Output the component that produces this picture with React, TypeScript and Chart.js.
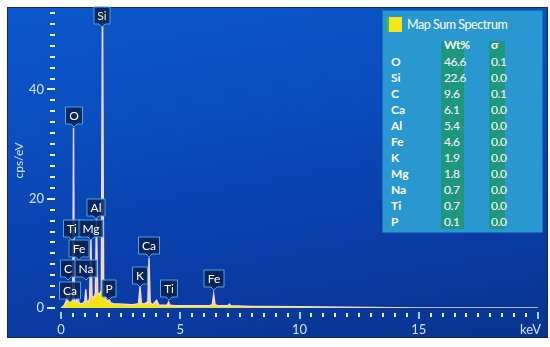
import React, { useEffect, useRef } from 'react';
import { Chart, registerables } from 'chart.js';

Chart.register(...registerables);

// Spectrum samples (energy in keV, intensity in cps/eV)
const spectrumKeV = [
  0, 0.12, 0.2, 0.25, 0.277, 0.31, 0.341, 0.38, 0.452, 0.49, 0.525, 0.56, 0.62, 0.705, 0.76,
  0.85, 0.93, 1.0, 1.041, 1.08, 1.15, 1.2, 1.254, 1.3, 1.36, 1.44, 1.487, 1.54, 1.6, 1.69,
  1.74, 1.79, 1.85, 1.95, 2.013, 2.07, 2.2, 2.6, 3.0, 3.25, 3.313, 3.37, 3.5, 3.59, 3.64,
  3.691, 3.74, 3.85, 4.01, 4.1, 4.3, 4.45, 4.51, 4.57, 4.8, 5.5, 6.2, 6.34, 6.403, 6.46,
  6.6, 7.0, 7.06, 7.12, 8.0, 10.0, 12.0, 13.0, 15.0, 20.0,
];
const spectrumCps = [
  0, 0.4, 1.1, 1.6, 3.0, 1.7, 2.4, 1.3, 1.7, 1.5, 33, 1.5, 1.0, 2.1, 0.9,
  0.8, 0.9, 1.3, 3.4, 1.3, 1.1, 1.8, 12.5, 2.2, 1.8, 2.6, 16.5, 2.8, 2.4, 3.2,
  58, 3.2, 1.9, 1.1, 1.7, 1.0, 0.8, 0.7, 0.6, 0.8, 3.9, 0.9, 0.7, 1.0, 0.9,
  9.2, 1.0, 0.6, 1.4, 0.5, 0.5, 0.5, 1.1, 0.5, 0.4, 0.4, 0.4, 0.6, 2.6, 0.6,
  0.4, 0.4, 0.7, 0.4, 0.3, 0.25, 0.15, 0.08, 0, 0,
];

// Peak callouts: element, line energy (keV), height of the callout tip (cps/eV)
const peakLabels = ['Ca', 'C', 'Ti', 'O', 'Fe', 'Na', 'Mg', 'Al', 'Si', 'P', 'K', 'Ca', 'Ti', 'Fe'];
const peakKeV = [0.37, 0.277, 0.46, 0.525, 0.74, 1.041, 1.254, 1.487, 1.74, 2.013, 3.313, 3.691, 4.51, 6.403];
const peakTipCps = [1.1, 5.1, 12.5, 33.2, 8.8, 5.1, 12.5, 16.3, 51.5, 1.5, 3.9, 9.4, 1.5, 3.3];

const xTickLabels = ['0', '5', '10', '15'];
const xUnit = 'keV';
const yTitle = 'cps/eV';

// Quantification table
const tableTitle = 'Map Sum Spectrum';
const tableElements = ['O', 'Si', 'C', 'Ca', 'Al', 'Fe', 'K', 'Mg', 'Na', 'Ti', 'P'];
const tableWt = ['46.6', '22.6', '9.6', '6.1', '5.4', '4.6', '1.9', '1.8', '0.7', '0.7', '0.1'];
const tableSigma = ['0.1', '0.0', '0.1', '0.0', '0.0', '0.0', '0.0', '0.0', '0.0', '0.0', '0.0'];

const FONT = 'Lato, "Open Sans", sans-serif';
const AXIS_COLOR = '#d3e4ff';

const overlayPlugin = {
  id: 'edsOverlay',
  afterDatasetsDraw(chart: any) {
    const ctx = chart.ctx;
    const xs = chart.scales.x;
    const ys = chart.scales.y;
    const area = chart.chartArea;
    ctx.save();
    // y tick marks
    for (let v = 0; v <= ys.max; v += 2) {
      const y = Math.round(ys.getPixelForValue(v));
      const major = v % 20 === 0;
      ctx.fillStyle = '#eef4ff';
      ctx.fillRect(major ? area.left - 14 : area.left - 11, y - 1, major ? 8 : 5, 2);
    }
    // x tick marks
    for (let i = 0; i <= 40; i++) {
      const v = i * 0.5;
      const x = Math.round(xs.getPixelForValue(v));
      const major = i % 10 === 0;
      ctx.fillStyle = major ? '#9ad6ff' : '#eef4ff';
      if (major) ctx.fillRect(x - 1, area.bottom + 4, 2, 7);
      else ctx.fillRect(x - 1, area.bottom + 5, 2, 4);
    }
    // unit label
    ctx.fillStyle = AXIS_COLOR;
    ctx.font = `13px ${FONT}`;
    ctx.textAlign = 'right';
    ctx.textBaseline = 'middle';
    ctx.fillText(xUnit, area.right + 3, area.bottom + 22);

    // peak callouts
    ctx.font = `12px ${FONT}`;
    ctx.textAlign = 'center';
    ctx.textBaseline = 'middle';
    peakLabels.forEach((lab, i) => {
      const cx = Math.round(xs.getPixelForValue(peakKeV[i]));
      const tip = Math.round(ys.getPixelForValue(peakTipCps[i]));
      const w = Math.round(ctx.measureText(lab).width) + 7;
      const h = 17;
      const bottom = tip - 3;
      const top = bottom - h;
      const l = cx - w / 2;
      const r = cx + w / 2;
      ctx.beginPath();
      ctx.moveTo(l, top);
      ctx.lineTo(r, top);
      ctx.lineTo(r, bottom);
      ctx.lineTo(cx + 3, bottom);
      ctx.lineTo(cx, tip);
      ctx.lineTo(cx - 3, bottom);
      ctx.lineTo(l, bottom);
      ctx.closePath();
      ctx.fillStyle = 'rgba(8,30,78,0.85)';
      ctx.fill();
      ctx.strokeStyle = '#45a6e6';
      ctx.lineWidth = 1;
      ctx.stroke();
      ctx.fillStyle = i === 8 ? '#f3f0b0' : '#ffffff';
      ctx.fillText(lab, cx, top + h / 2 + 0.5);
    });
    ctx.restore();
  },
};

export default function App() {
  const canvasRef = useRef<HTMLCanvasElement | null>(null);

  useEffect(() => {
    const canvas = canvasRef.current;
    if (!canvas) return;
    const chart = new Chart(canvas, {
      type: 'line',
      data: {
        datasets: [
          {
            data: spectrumKeV.map((x, i) => ({ x, y: spectrumCps[i] })),
            borderColor: '#f2d6f4',
            borderWidth: 1.4,
            backgroundColor: '#f4e614',
            fill: 'origin',
            pointRadius: 0,
            tension: 0,
          },
        ],
      },
      options: {
        animation: false,
        responsive: false,
        events: [],
        layout: { padding: { left: 0, right: 12, top: 13, bottom: 0 } },
        plugins: { legend: { display: false }, tooltip: { enabled: false } },
        scales: {
          x: {
            type: 'linear',
            min: 0,
            max: 20,
            afterFit: (s: any) => {
              s.height = 39;
              s.paddingLeft = 0;
              s.paddingRight = 0;
            },
            grid: { display: false, drawTicks: false },
            border: { display: false },
            ticks: {
              stepSize: 5,
              padding: 14,
              autoSkip: false,
              maxRotation: 0,
              color: AXIS_COLOR,
              font: { family: FONT, size: 13 },
              callback: (v: any) => {
                const idx = Math.round(Number(v) / 5);
                return xTickLabels[idx] ?? '';
              },
            },
          },
          y: {
            type: 'linear',
            min: 0,
            max: 54,
            afterFit: (s: any) => {
              s.width = 61;
              s.paddingTop = 0;
              s.paddingBottom = 0;
            },
            grid: { display: false, drawTicks: false },
            border: { display: false },
            ticks: {
              stepSize: 20,
              padding: 17,
              color: AXIS_COLOR,
              font: { family: FONT, size: 13 },
              callback: (v: any) => (Number(v) % 20 === 0 ? String(v) : ''),
            },
            title: {
              display: true,
              text: yTitle,
              color: AXIS_COLOR,
              font: { family: FONT, size: 12 },
              padding: { top: 12, bottom: 0 },
            },
          },
        },
      },
      plugins: [overlayPlugin],
    });
    return () => chart.destroy();
  }, []);

  const rowTop = 43;
  const rowH = 16;

  return (
    <div style={{ position: 'fixed', left: 0, top: 0, width: 550, height: 347, background: '#ffffff', overflow: 'hidden', fontFamily: FONT }}>
      <div
        style={{
          position: 'absolute',
          left: 7,
          top: 7,
          width: 539,
          height: 329,
          border: '1px solid #16295a',
          background: 'linear-gradient(170deg, #0b57cc 0%, #0a4cbc 35%, #0a3eaa 65%, #08348f 100%)',
        }}
      />
      <canvas ref={canvasRef} width={550} height={347} style={{ position: 'absolute', left: 0, top: 0 }} />
      <div
        style={{
          position: 'absolute',
          left: 382,
          top: 10,
          width: 159,
          height: 221,
          background: '#2a98d0',
          border: '1px solid #1b6fb5',
          color: '#ffffff',
        }}
      >
        <div style={{ position: 'absolute', left: 58, top: 30, width: 23, height: 188, background: '#1f977f' }} />
        <div style={{ position: 'absolute', left: 106, top: 30, width: 16, height: 188, background: '#1f977f' }} />
        <div style={{ position: 'absolute', left: 4, top: 6, width: 15, height: 15, background: '#f5e61a', borderLeft: '2px solid #3fbf3a', boxSizing: 'border-box' }} />
        <div style={{ position: 'absolute', left: 24, top: 5, fontSize: 12.5, letterSpacing: -0.45, lineHeight: '17px', whiteSpace: 'nowrap' }}>{tableTitle}</div>
        <div style={{ position: 'absolute', left: 61, top: 26, fontSize: 12, fontWeight: 700, letterSpacing: -0.3, lineHeight: '16px' }}>Wt%</div>
        <div style={{ position: 'absolute', left: 108, top: 26, fontSize: 12, fontWeight: 700, lineHeight: '16px' }}>σ</div>
        {tableElements.map((el, i) => (
          <React.Fragment key={i}>
            <div style={{ position: 'absolute', left: 8, top: rowTop + i * rowH, fontSize: 12, fontWeight: 700, lineHeight: '16px' }}>{el}</div>
            <div style={{ position: 'absolute', left: 61, top: rowTop + i * rowH, fontSize: 12, letterSpacing: -0.4, lineHeight: '16px' }}>{tableWt[i]}</div>
            <div style={{ position: 'absolute', left: 108, top: rowTop + i * rowH, fontSize: 12, letterSpacing: -0.4, lineHeight: '16px' }}>{tableSigma[i]}</div>
          </React.Fragment>
        ))}
      </div>
    </div>
  );
}
